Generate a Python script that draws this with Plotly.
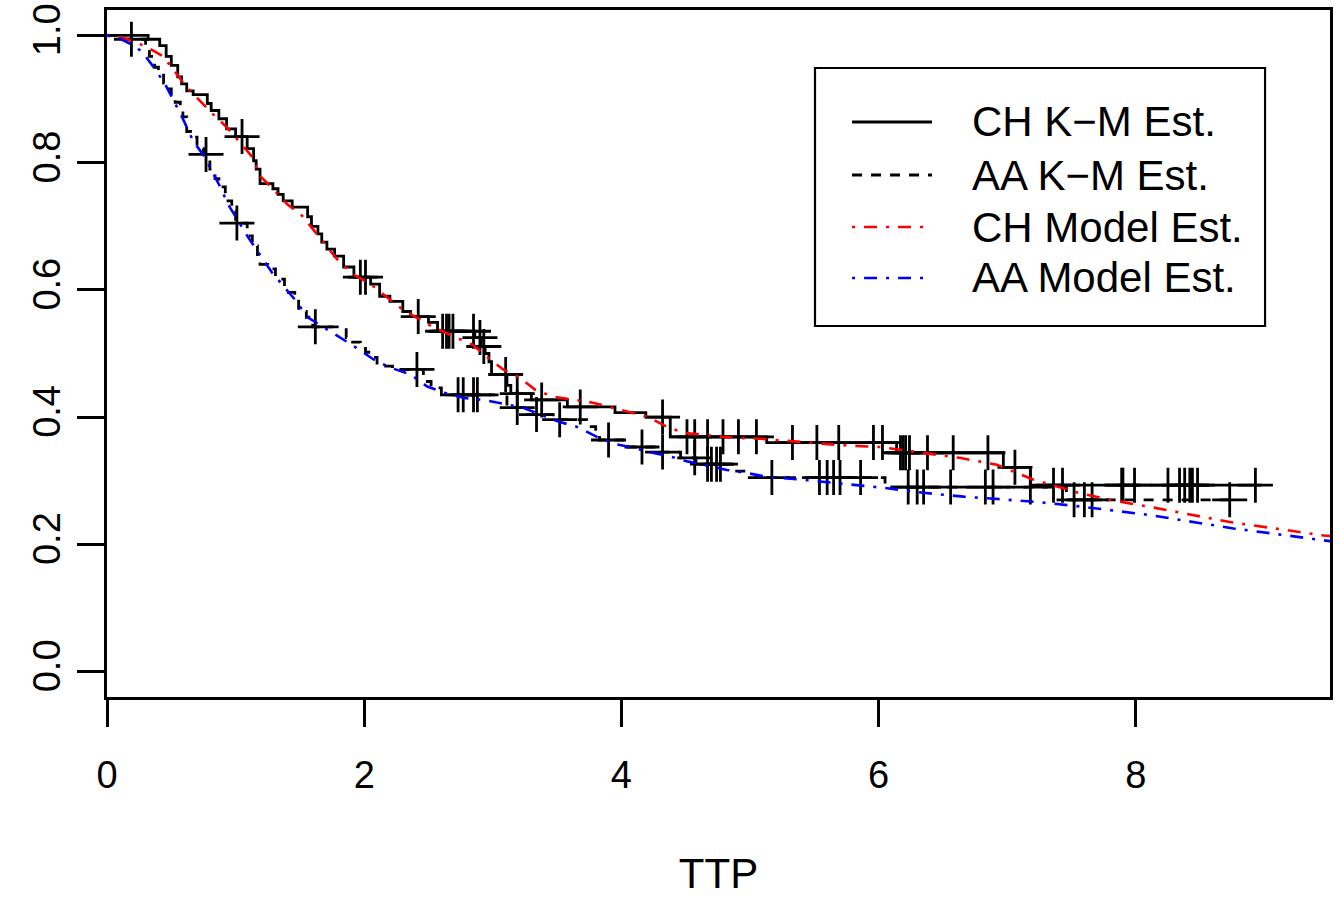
import numpy as np
import plotly.graph_objects as go

# ---------------- data ----------------
# Kaplan-Meier step curves: time of each step and survival level after it
ch_time = [0, 0.32, 0.41, 0.46, 0.50, 0.55, 0.58, 0.62, 0.67, 0.78, 0.81, 0.87, 0.93, 1.00, 1.09,
           1.14, 1.16, 1.19, 1.29, 1.33, 1.37, 1.44, 1.56, 1.59, 1.64, 1.67, 1.71, 1.77, 1.84, 1.92,
           2.05, 2.12, 2.20, 2.30, 2.36, 2.50, 2.57, 2.86, 2.91, 2.94, 2.97, 2.99, 3.11, 3.14, 3.30,
           3.58, 3.95, 4.19, 4.38, 5.13, 6.14, 6.97, 7.18, 8.98]
ch_surv = [1.0, 0.994, 0.984, 0.967, 0.953, 0.935, 0.924, 0.913, 0.907, 0.893, 0.882, 0.869, 0.853, 0.841, 0.822,
           0.803, 0.790, 0.767, 0.759, 0.750, 0.740, 0.730, 0.715, 0.700, 0.688, 0.675, 0.664, 0.653, 0.636, 0.620,
           0.609, 0.590, 0.582, 0.566, 0.558, 0.549, 0.535, 0.525, 0.511, 0.500, 0.487, 0.467, 0.450, 0.437, 0.427,
           0.416, 0.407, 0.400, 0.369, 0.360, 0.344, 0.321, 0.293, 0.293]
ch_censor = [1.05, 1.97, 2.01, 2.42, 2.61, 2.64, 2.66, 2.69, 2.85, 2.90, 2.93, 3.10, 3.19, 3.38, 3.68,
             4.32, 4.51, 4.57, 4.67, 4.79, 4.91, 5.05, 5.33, 5.52, 5.69, 5.96, 6.03, 6.17, 6.19, 6.21,
             6.24, 6.38, 6.58, 6.85, 7.06, 7.36, 7.43, 7.89, 7.90, 7.99, 8.25, 8.34, 8.38, 8.42, 8.44,
             8.48, 8.93]

aa_time = [0, 0.08, 0.30, 0.33, 0.37, 0.40, 0.44, 0.47, 0.50, 0.53, 0.57, 0.59, 0.62, 0.65, 0.70,
           0.75, 0.80, 0.84, 0.87, 0.92, 0.97, 1.00, 1.09, 1.13, 1.17, 1.19, 1.25, 1.31, 1.38, 1.41,
           1.46, 1.49, 1.55, 1.60, 1.86, 1.91, 1.97, 2.01, 2.06, 2.10, 2.22, 2.46, 2.52, 2.60, 3.11,
           3.24, 3.47, 3.73, 3.80, 3.83, 4.05, 4.30, 4.46, 4.58, 4.88, 4.98, 6.05, 7.46, 8.73]
aa_surv = [1.0, 0.994, 0.975, 0.967, 0.950, 0.940, 0.925, 0.916, 0.905, 0.895, 0.882, 0.872, 0.849, 0.840, 0.822,
           0.813, 0.790, 0.775, 0.762, 0.740, 0.724, 0.705, 0.685, 0.669, 0.653, 0.640, 0.633, 0.617, 0.606, 0.596,
           0.585, 0.566, 0.557, 0.542, 0.525, 0.518, 0.511, 0.502, 0.494, 0.480, 0.475, 0.456, 0.446, 0.435, 0.415,
           0.404, 0.396, 0.385, 0.375, 0.364, 0.353, 0.345, 0.336, 0.326, 0.315, 0.305, 0.290, 0.270, 0.270]
aa_censor = [0.19, 0.77, 1.01, 1.62, 2.41, 2.73, 2.77, 2.85, 2.88, 3.19, 3.34, 3.52, 3.90, 4.16, 4.32,
             4.57, 4.67, 4.70, 4.74, 4.77, 5.17, 5.54, 5.60, 5.65, 5.70, 5.86, 6.23, 6.30, 6.35, 6.56,
             6.83, 6.89, 7.18, 7.52, 7.60, 7.66, 8.73]

# Model-based survival estimates
ch_model_t = [0, 0.14, 0.30, 0.43, 0.51, 0.61, 0.71, 0.82, 0.93, 1.03, 1.13, 1.19, 1.29, 1.40, 1.52,
              1.63, 1.79, 1.91, 2.05, 2.18, 2.30, 2.54, 2.69, 2.84, 2.96, 3.08, 3.21, 3.33, 3.47, 3.62,
              3.77, 3.91, 4.07, 4.21, 4.35, 4.49, 4.65, 4.79, 4.95, 5.08, 5.39, 5.70, 6.01, 6.32, 6.63,
              6.92, 7.20, 7.57, 7.80, 8.24, 8.73, 9.46, 9.51]
ch_model_s = [1.0, 0.995, 0.983, 0.968, 0.948, 0.921, 0.900, 0.877, 0.856, 0.833, 0.809, 0.779, 0.759, 0.735, 0.716,
              0.688, 0.648, 0.625, 0.609, 0.588, 0.569, 0.541, 0.527, 0.514, 0.494, 0.475, 0.462, 0.443, 0.432, 0.427,
              0.423, 0.416, 0.407, 0.400, 0.385, 0.375, 0.372, 0.369, 0.367, 0.366, 0.361, 0.356, 0.353, 0.345, 0.336,
              0.325, 0.302, 0.280, 0.270, 0.254, 0.235, 0.214, 0.213]
aa_model_t = [0, 0.10, 0.18, 0.27, 0.36, 0.45, 0.53, 0.59, 0.67, 0.76, 0.82, 0.88, 0.94, 1.09, 1.28,
              1.46, 1.56, 1.71, 1.94, 2.07, 2.20, 2.36, 2.49, 2.63, 2.78, 2.93, 3.07, 3.23, 3.37, 3.51,
              3.65, 3.81, 3.94, 4.09, 4.24, 4.38, 4.52, 4.67, 4.82, 4.98, 5.13, 5.44, 5.75, 6.03, 6.35,
              6.66, 6.94, 7.26, 7.59, 8.11, 8.76, 9.41, 9.51]
aa_model_s = [1.0, 0.995, 0.987, 0.975, 0.951, 0.924, 0.893, 0.869, 0.834, 0.809, 0.785, 0.762, 0.735, 0.685, 0.628,
              0.585, 0.557, 0.538, 0.509, 0.491, 0.478, 0.467, 0.448, 0.438, 0.430, 0.427, 0.421, 0.415, 0.404, 0.393,
              0.385, 0.369, 0.358, 0.352, 0.344, 0.338, 0.330, 0.323, 0.317, 0.312, 0.306, 0.301, 0.295, 0.289, 0.281,
              0.275, 0.271, 0.266, 0.259, 0.246, 0.225, 0.207, 0.205]

x_ticks = [0, 2, 4, 6, 8]
y_ticks = [0.0, 0.2, 0.4, 0.6, 0.8, 1.0]
legend_labels = ["CH K\u2212M Est.", "AA K\u2212M Est.", "CH Model Est.", "AA Model Est."]

# ---------------- styles ----------------
FONT = "Liberation Sans, Arial, Helvetica, sans-serif"
KM_SOLID = dict(color="black", width=2.8)
KM_DASH = dict(color="black", width=2.8, dash="10px,9px")
CH_MODEL = dict(color="#ff0000", width=2.6, dash="3px,9px,13px,9px")
AA_MODEL = dict(color="#0000ff", width=2.6, dash="3px,9px,13px,9px")
legend_styles = [KM_SOLID, KM_DASH, CH_MODEL, AA_MODEL]


def level_at(times, surv, t):
    idx = np.searchsorted(np.asarray(times), np.asarray(t), side="right") - 1
    return np.asarray(surv)[idx]


fig = go.Figure()

fig.add_trace(go.Scatter(x=ch_time, y=ch_surv, mode="lines", line_shape="hv",
                         line=KM_SOLID, name=legend_labels[0], showlegend=False))
fig.add_trace(go.Scatter(x=aa_time, y=aa_surv, mode="lines", line_shape="hv",
                         line=KM_DASH, name=legend_labels[1], showlegend=False))

cross = dict(symbol="cross-thin", size=25, color="black", line=dict(color="black", width=2.8))
fig.add_trace(go.Scatter(x=ch_censor, y=level_at(ch_time, ch_surv, ch_censor), mode="markers",
                         marker=cross, showlegend=False, hoverinfo="skip", name="CH censored"))
fig.add_trace(go.Scatter(x=aa_censor, y=level_at(aa_time, aa_surv, aa_censor), mode="markers",
                         marker=cross, showlegend=False, hoverinfo="skip", name="AA censored"))

fig.add_trace(go.Scatter(x=ch_model_t, y=ch_model_s, mode="lines",
                         line=CH_MODEL, name=legend_labels[2], showlegend=False))
fig.add_trace(go.Scatter(x=aa_model_t, y=aa_model_s, mode="lines",
                         line=AA_MODEL, name=legend_labels[3], showlegend=False))

# R-style legend: framed box, sample lines and labels (paper coordinates)
fig.add_shape(type="rect", xref="paper", yref="paper",
              x0=0.5789, x1=0.9469, y0=0.540, y1=0.9156,
              line=dict(color="black", width=2.2), fillcolor="rgba(0,0,0,0)", layer="above")
row_y = [0.8370, 0.7598, 0.6841, 0.6099]
for label, style, yy in zip(legend_labels, legend_styles, row_y):
    fig.add_shape(type="line", xref="paper", yref="paper", x0=0.6092, x1=0.6746, y0=yy, y1=yy,
                  line=style, layer="above")
    fig.add_annotation(xref="paper", yref="paper", x=0.7056, y=yy, text=label, showarrow=False,
                       xanchor="left", yanchor="middle",
                       font=dict(family=FONT, size=42, color="black"))

fig.update_layout(
    width=1340, height=897,
    margin=dict(l=107, r=10, t=10, b=200, autoexpand=False),
    paper_bgcolor="white", plot_bgcolor="white",
    font=dict(family=FONT, color="black"),
    showlegend=False,
    xaxis=dict(range=[0, 9.51], tickvals=x_ticks, ticktext=[str(v) for v in x_ticks],
               automargin=False,
               showgrid=False, zeroline=False, showline=True, mirror=True,
               linecolor="black", linewidth=2.5, ticks="outside", ticklen=27,
               tickwidth=2.5, tickcolor="black", ticklabelstandoff=16,
               tickfont=dict(family=FONT, size=38, color="black"),
               title=dict(text="TTP", font=dict(family=FONT, size=42, color="black"), standoff=68)),
    yaxis=dict(range=[-0.04, 1.04], tickvals=y_ticks, ticktext=[f"{v:.1f}" for v in y_ticks],
               automargin=False,
               showgrid=False, zeroline=False, showline=True, mirror=True,
               linecolor="black", linewidth=2.5, ticks="outside", ticklen=27,
               tickwidth=2.5, tickcolor="black", tickangle=-90, ticklabelstandoff=2,
               tickfont=dict(family=FONT, size=38, color="black")),
)

fig.write_html("out.html", config={"displayModeBar": False},
               post_script="document.body.style.margin='0';")
